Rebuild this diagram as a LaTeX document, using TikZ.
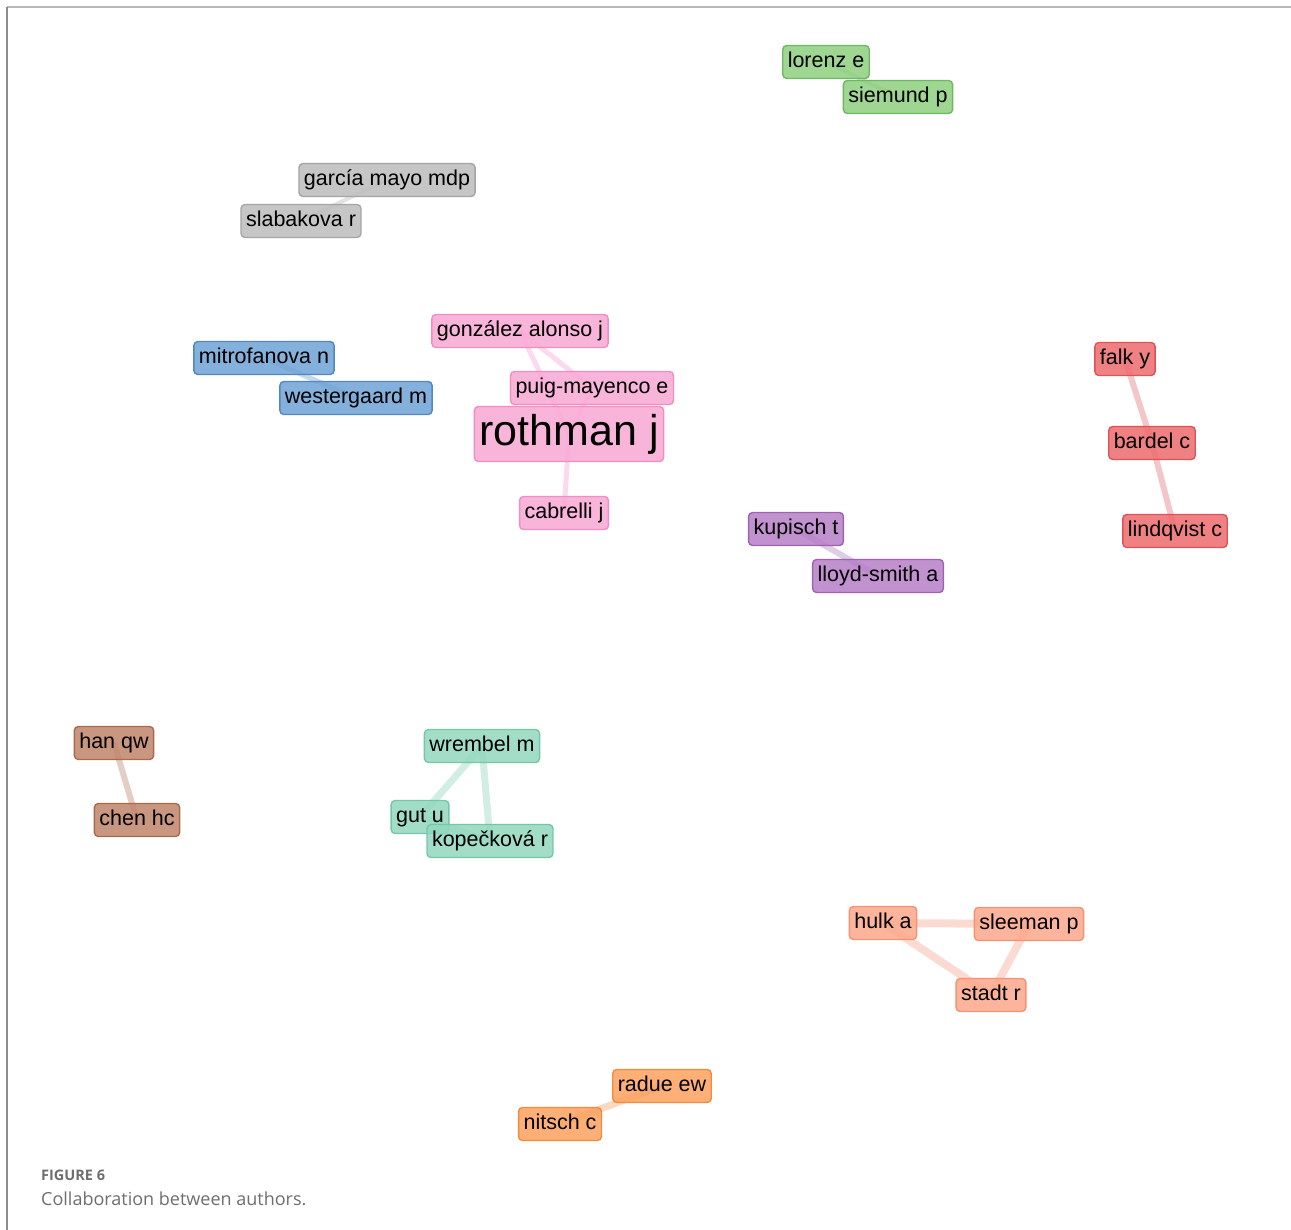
\documentclass[tikz,border=0pt]{standalone}
\usepackage{fontspec}
\setmainfont{Liberation Sans}
\newfontfamily\capfont{Open Sans}
\usetikzlibrary{backgrounds}
\definecolor{grF}{HTML}{8ECF80}\definecolor{grD}{HTML}{6DB862}
\definecolor{gyF}{HTML}{BDBDBD}\definecolor{gyD}{HTML}{A5A5A5}
\definecolor{pkF}{HTML}{F9A8D4}\definecolor{pkD}{HTML}{F28DC4}
\definecolor{blF}{HTML}{6FA3D6}\definecolor{blD}{HTML}{5088C2}
\definecolor{rdF}{HTML}{EE6B6E}\definecolor{rdD}{HTML}{DC5358}
\definecolor{puF}{HTML}{B77FC7}\definecolor{puD}{HTML}{9E62AF}
\definecolor{brF}{HTML}{C0856A}\definecolor{brD}{HTML}{A9694E}
\definecolor{tlF}{HTML}{92D8BE}\definecolor{tlD}{HTML}{74C8A8}
\definecolor{saF}{HTML}{FCA98B}\definecolor{saD}{HTML}{F49273}
\definecolor{orF}{HTML}{FDA15E}\definecolor{orD}{HTML}{F28B40}
\definecolor{capgray}{HTML}{6E6E6E}
\tikzset{
  au/.style={rounded corners=4pt, line width=1.4pt, minimum height=33pt,
    inner xsep=5pt, inner ysep=0pt, fill opacity=0.85, text opacity=1,
    text height=16pt, text depth=4.5pt,
    font=\fontsize{21.5}{26}\selectfont, text=black},
  big/.style={au, minimum height=55pt, text height=32pt, text depth=9pt,
    font=\fontsize{43}{50}\selectfont},
  grn/.style={au, fill=grF, draw=grD},
  gry/.style={au, fill=gyF, draw=gyD},
  pnk/.style={au, fill=pkF, draw=pkD},
  blu/.style={au, fill=blF, draw=blD},
  red/.style={au, fill=rdF, draw=rdD},
  pur/.style={au, fill=puF, draw=puD},
  brn/.style={au, fill=brF, draw=brD},
  tel/.style={au, fill=tlF, draw=tlD},
  sal/.style={au, fill=saF, draw=saD},
  org/.style={au, fill=orF, draw=orD},
  lnk/.style={line width=#1, opacity=0.32},
}
\begin{document}
\begin{tikzpicture}[x=1pt,y=-1pt]
\useasboundingbox (0,0) rectangle (1291,1230);

\node[grn] (lor) at (826,62) {lorenz e};
\node[grn] (sie) at (898,97) {siemund p};
\node[gry] (gar) at (387,180) {garcía mayo mdp};
\node[gry] (sla) at (301,221) {slabakova r};
\node[pnk] (gon) at (520,331) {gonzález alonso j};
\node[blu] (mit) at (264,358) {mitrofanova n};
\node[blu] (wes) at (356,398) {westergaard m};
\node[pnk] (pui) at (592,388) {puig-mayenco e};
\node[big, fill=pkF, draw=pkD] (rot) at (569,434) {rothman j};
\node[pnk] (cab) at (564,513) {cabrelli j};
\node[red] (fal) at (1125,359) {falk y};
\node[red] (bar) at (1152,443) {bardel c};
\node[red] (lin) at (1175,531) {lindqvist c};
\node[pur] (kup) at (796,529) {kupisch t};
\node[pur] (llo) at (878,576) {lloyd-smith a};
\node[brn] (han) at (114,743) {han qw};
\node[brn] (che) at (137,820) {chen hc};
\node[tel] (wre) at (482,746) {wrembel m};
\node[tel] (gut) at (420,817) {gut u};
\node[tel] (kop) at (490,841) {kopečková r};
\node[sal] (hul) at (883,923) {hulk a};
\node[sal] (sle) at (1029,924) {sleeman p};
\node[sal] (sta) at (991,995) {stadt r};
\node[org] (rad) at (662,1086) {radue ew};
\node[org] (nit) at (560,1124) {nitsch c};

\begin{scope}[on background layer]
\fill[white] (0,0) rectangle (1291,1230);
\draw[line width=1.5pt, color=gray!55] (7,7) -- (1291,7);
\draw[line width=1.8pt, color=gray!90] (7,7) -- (7,1230);
\draw[lnk=4pt, color=grD] (lor.center) -- (sie.center);
\draw[lnk=4pt, color=gyD] (gar.center) -- (sla.center);
\draw[lnk=5pt, color=blD] (mit.center) -- (wes.center);
\draw[lnk=5pt, color=pkD] (gon.center) -- (pui.center);
\draw[lnk=5pt, color=pkD] (gon.center) -- (rot.center);
\draw[lnk=5pt, color=pkD] (pui.center) -- (rot.center);
\draw[lnk=5pt, color=pkD] (rot.center) -- (cab.center);
\draw[lnk=6pt, color=rdD] (fal.center) -- (bar.center);
\draw[lnk=6pt, color=rdD] (bar.center) -- (lin.center);
\draw[lnk=6pt, color=puD] (kup.center) -- (llo.center);
\draw[lnk=6pt, color=brD] (han.center) -- (che.center);
\draw[lnk=7pt, color=tlD] (wre.center) -- (gut.center);
\draw[lnk=7pt, color=tlD] (wre.center) -- (kop.center);
\draw[lnk=7pt, color=tlD] (gut.center) -- (kop.center);
\draw[lnk=8pt, color=saD] (hul.center) -- (sle.center);
\draw[lnk=8pt, color=saD] (hul.center) -- (sta.center);
\draw[lnk=8pt, color=saD] (sle.center) -- (sta.center);
\draw[lnk=7pt, color=orD] (rad.center) -- (nit.center);
\end{scope}

\node[anchor=base west, inner sep=0pt, text=capgray, font=\capfont\fontsize{14.5}{17}\selectfont\bfseries] (fig) at (41,1180) {FIGURE 6};
\node[anchor=base west, inner sep=0pt, text=capgray, font=\capfont\fontsize{18}{22}\selectfont] (cap) at (41,1205) {Collaboration between authors.};
\end{tikzpicture}
\end{document}
